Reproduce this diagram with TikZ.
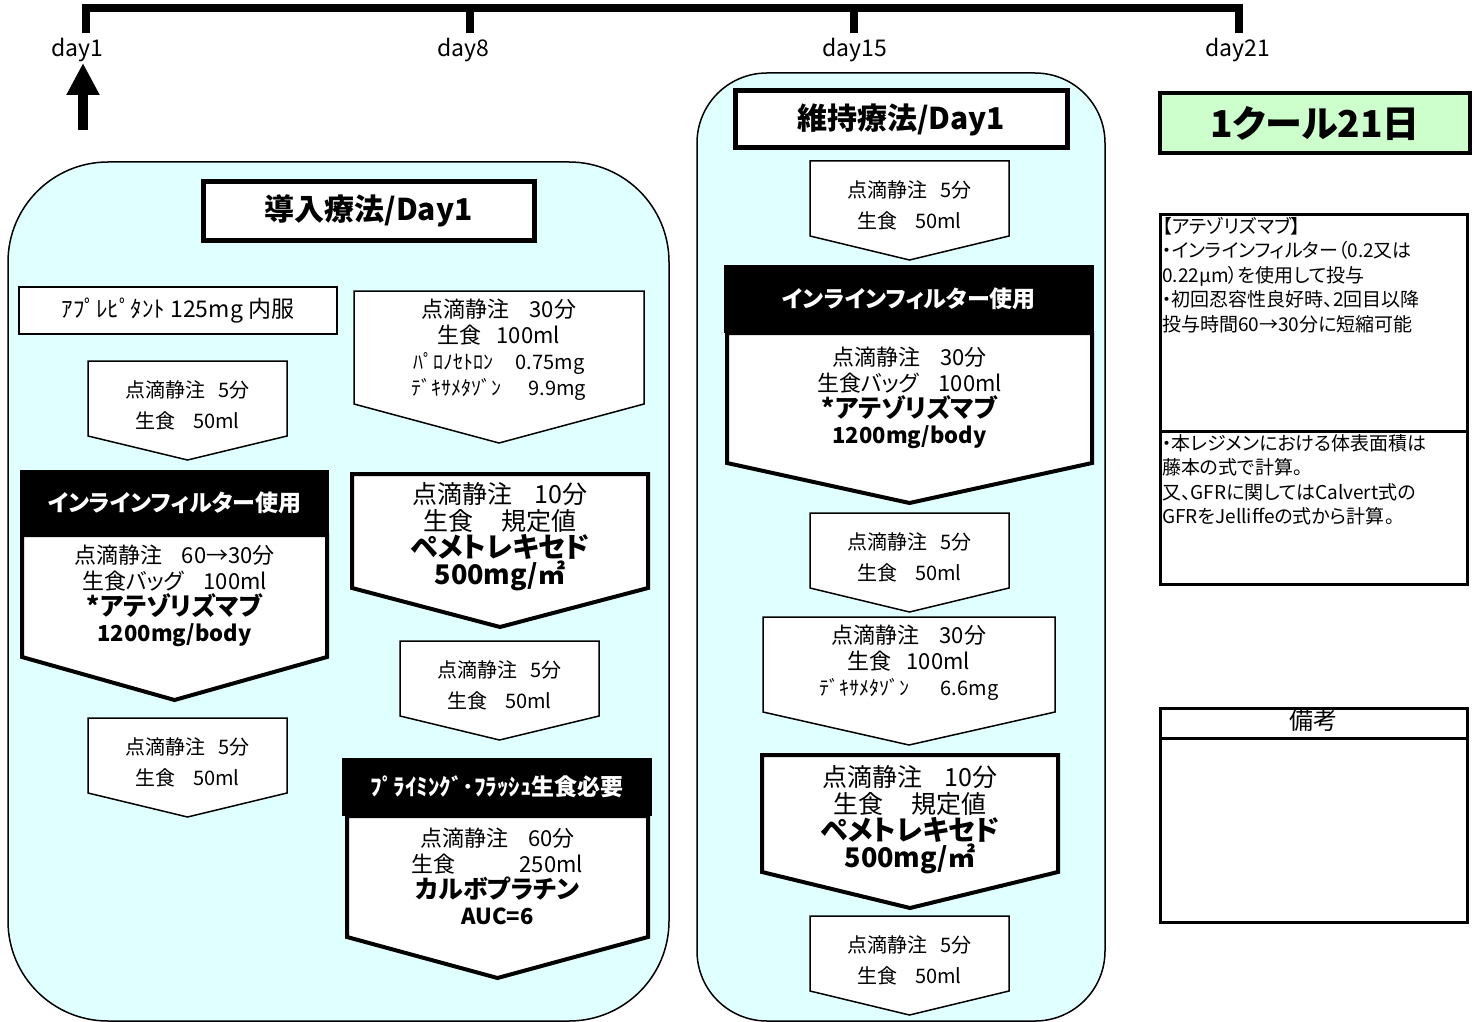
\documentclass[tikz,border=0pt]{standalone}
\usepackage{fontspec}
\setmainfont{Noto Sans CJK JP}[RawFeature=+palt]
\usetikzlibrary{arrows.meta,positioning}
\definecolor{panelcyan}{HTML}{E0FFFF}
\definecolor{coursegreen}{HTML}{CCFFCC}

\tikzset{
  panel/.style={draw, line width=1.5pt, fill=panelcyan},
  phase/.style={draw, line width=5pt, fill=white, inner sep=0pt, font=\fontsize{30}{32}\selectfont\bfseries},
  oral/.style={draw, line width=1.5pt, fill=white, inner sep=0pt, minimum width=318pt, minimum height=47pt, font=\fontsize{23}{26}\selectfont},
  drip/.style={draw, line width=1.5pt, fill=white},
  heavy/.style={line width=4pt},
  driptext/.style={align=center, inner sep=0pt, font=\fontsize{22}{26}\selectfont},
  bigtext/.style={font=\fontsize{25}{27}\selectfont, yshift=-6pt},
  flush/.style={align=center, inner sep=0pt, font=\fontsize{20}{31}\selectfont},
  filterbar/.style={fill=black, text=white, inner sep=0pt, font=\fontsize{23}{26}\selectfont\bfseries},
  daylabel/.style={anchor=base, font=\fontsize{23}{26}\selectfont},
  bar/.style={line width=8pt},
  memo/.style={draw, line width=3pt},
  memotext/.style={anchor=north west, align=left, inner sep=0pt, font=\fontsize{19}{24.5}\selectfont},
}

% pentagon pointing down: [text style]{line style}{name}{x1}{y1}{x2}{y2}{tip y}{text}
\newcommand{\dripbox}[9][]{%
  \draw[drip,#2] (#4,#5) -- (#6,#5) -- (#6,#7) -- ({(#4+#6)/2},#8) -- (#4,#7) -- cycle;
  \node[driptext,#1] (#3) at ({(#4+#6)/2},{(#5+#7)/2}) {#9};}
% the 5 min saline flush
\newcommand{\flushbox}[3]{%
  \draw[drip] (#2,#3) -- ++(199,0) -- ++(0,75) -- ++(-99.5,24) -- ++(-99.5,-24) -- cycle;
  \node[flush] (#1) at (#2+99.5,#3+44) {点滴静注~~~5分\\生食~~~~50ml};}

\begin{document}
\begin{tikzpicture}[x=1pt, y=-1pt]
  \useasboundingbox (0,0) rectangle (1476,1022);
  % Define timeline
  \draw[bar] (85.5,33) -- (85.5,8) -- (1238.5,8) -- (1238.5,33);
  \draw[bar] (469.5,8) -- (469.5,33);
  \draw[bar] (853.5,8) -- (853.5,33);
  \node[daylabel] (d1) at (77.5,57) {day1};
  \node[daylabel] (d8) at (463,57) {day8};
  \node[daylabel] (d15) at (855,57) {day15};
  \node[daylabel] (d21) at (1238,57) {day21};
  \coordinate (start) at (83,130);
  \coordinate (starttip) at (83,63);
  \draw[line width=10pt, -{Triangle[width=31pt,length=32pt]}] (start) -- (starttip);
  % Define panels
  \draw[panel, rounded corners=100pt] (8,162) rectangle (669,1021);
  \draw[panel, rounded corners=70pt] (697,73) rectangle (1105,1021);
  \node[phase, minimum width=331pt, minimum height=58pt] (induct) at (368.5,211) {導入療法/Day1};
  \node[phase, minimum width=332pt, minimum height=57pt] (maint) at (901,119.5) {維持療法/Day1};
  % Induction, left column
  \node[oral] (aprep) at (178,310.5) {ｱﾌﾟﾚﾋﾟﾀﾝﾄ 125mg 内服};
  \flushbox{fl1}{88}{361}
  \node[filterbar, minimum width=309pt, minimum height=65pt] (filt1) at (174.5,502.5) {インラインフィルター使用};
  \dripbox{heavy}{atz1}{22}{535}{327}{657}{700}{点滴静注~~~~60→30分\\生食バッグ~~~~100ml\\{\fontsize{25}{27}\selectfont\bfseries *アテゾリズマブ}\\{\bfseries 1200mg/body}}
  \flushbox{fl2}{88}{718}
  % Induction, right column
  \dripbox[yshift=-2pt]{}{pre1}{354}{291}{644}{404}{443}{点滴静注~~~~30分\\生食~~~100ml\\{\fontsize{20}{24}\selectfont ﾊﾟﾛﾉｾﾄﾛﾝ~~~~~0.75mg}\\{\fontsize{20}{24}\selectfont ﾃﾞｷｻﾒﾀｿﾞﾝ~~~~~~9.9mg}}
  \dripbox[bigtext]{heavy}{pem1}{352}{474}{648}{588}{627}{点滴静注~~~~10分\\生食~~~~~規定値\\{\fontsize{28}{27}\selectfont\bfseries ペメトレキセド}\\{\fontsize{27}{27}\selectfont\bfseries 500mg/㎡}}
  \flushbox{fl3}{400}{641}
  \node[filterbar, minimum width=310pt, minimum height=58pt] (prime) at (497,787) {ﾌﾟﾗｲﾐﾝｸﾞ･ﾌﾗｯｼｭ生食必要};
  \dripbox{heavy}{carbo}{347}{816}{648}{937}{978}{点滴静注~~~~60分\\生食\hspace{2.9em}250ml\\{\fontsize{25}{27}\selectfont\bfseries カルボプラチン}\\{\bfseries AUC=6}}
  % Maintenance
  \flushbox{fl4}{810}{161}
  \node[filterbar, minimum width=370pt, minimum height=68pt] (filt2) at (909,299) {インラインフィルター使用};
  \dripbox{heavy}{atz2}{727}{333}{1092}{463}{503}{点滴静注~~~~30分\\生食バッグ~~~~100ml\\{\fontsize{25}{27}\selectfont\bfseries *アテゾリズマブ}\\{\bfseries 1200mg/body}}
  \flushbox{fl5}{810}{513}
  \dripbox[yshift=2pt]{}{pre2}{763}{617}{1055}{712}{745}{点滴静注~~~~30分\\生食~~~100ml\\{\fontsize{20}{24}\selectfont ﾃﾞｷｻﾒﾀｿﾞﾝ~~~~~~~6.6mg}}
  \dripbox[bigtext]{heavy}{pem2}{762}{755}{1058}{872}{908}{点滴静注~~~~10分\\生食~~~~~規定値\\{\fontsize{28}{27}\selectfont\bfseries ペメトレキセド}\\{\fontsize{27}{27}\selectfont\bfseries 500mg/㎡}}
  \flushbox{fl6}{810}{916}
  % Notes
  \node[draw, line width=4pt, fill=coursegreen, minimum width=310pt, minimum height=60pt, font=\fontsize{37}{40}\selectfont\bfseries] (course) at (1315,123) {1クール21日};
  \draw[memo] (1160,214) rectangle (1467,584);
  \draw[memo] (1160,431) -- (1467,431);
  \node[memotext] (atzmemo) at (1162,217) {【アテゾリズマブ】\\・インラインフィルター（0.2又は\\0.22μm）を使用して投与\\・初回忍容性良好時、2回目以降\\投与時間60→30分に短縮可能};
  \node[memotext] (bsamemo) at (1162,434) {・本レジメンにおける体表面積は\\藤本の式で計算。\\又、GFRに関してはCalvert式の\\GFRをJelliffeの式から計算。};
  \draw[memo] (1160,708) rectangle (1467,922);
  \draw[memo] (1160,738) -- (1467,738);
  \node[font=\fontsize{24}{26}\selectfont] (remark) at (1313,720) {備考};
\end{tikzpicture}
\end{document}
